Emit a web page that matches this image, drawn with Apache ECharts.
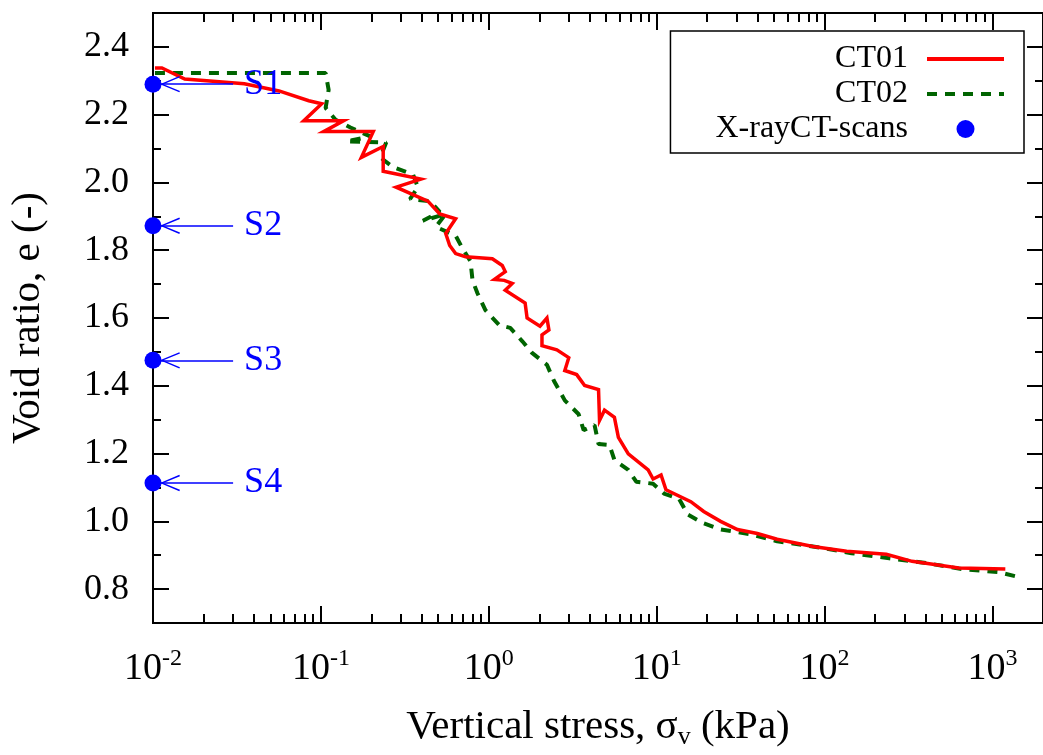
<!DOCTYPE html>
<html><head><meta charset="utf-8">
<script src="https://cdn.jsdelivr.net/npm/echarts@6/dist/echarts.min.js"></script>
<style>html,body{margin:0;padding:0;background:#fff}#c{width:1043px;height:755px}</style>
</head><body><div id="c"></div>
<script>
// ---- data ----
const ct01Stress = [0.01027,0.0113,0.01546,0.035,0.0563,0.0847,0.1011,0.0791,0.1364,0.1039,0.2051,0.1742,0.235,0.235,0.3943,0.2806,0.4336,0.5105,0.6346,0.554,0.5851,0.6346,0.7273,1.050,1.203,1.253,1.079,1.236,1.379,1.253,1.646,1.691,2.018,2.220,2.281,2.074,2.074,2.543,2.995,2.836,3.339,3.723,4.505,4.567,4.889,5.600,5.914,6.776,8.897,9.521,10.62,11.36,15.97,19.06,24.03,30.28,39.75,52.19,85.2,135.3,233.2,332.1,629.8,1193];
const ct01Void = [2.338,2.338,2.305,2.291,2.270,2.241,2.232,2.182,2.182,2.150,2.150,2.074,2.106,2.033,2.010,1.986,1.945,1.907,1.893,1.849,1.814,1.790,1.781,1.775,1.755,1.737,1.714,1.711,1.702,1.682,1.644,1.600,1.576,1.600,1.565,1.550,1.518,1.506,1.483,1.445,1.433,1.401,1.389,1.298,1.328,1.307,1.248,1.199,1.152,1.125,1.137,1.093,1.058,1.029,1.000,0.976,0.964,0.947,0.926,0.912,0.903,0.882,0.862,0.859];
const ct02Stress = [0.01027,0.1067,0.1112,0.1067,0.1223,0.15,0.1969,0.1421,0.2448,0.2257,0.2694,0.3536,0.3785,0.3393,0.4457,0.5105,0.4051,0.554,0.4835,0.6346,0.6982,0.7787,0.80,0.8562,0.9548,1.155,1.342,1.58,1.81,2.22,2.442,2.836,3.431,3.673,4.266,4.505,5.233,5.6,6.776,7.554,9.521,11.06,13.57,15.33,19.06,24.03,36.13,52.19,85.2,144.8,242.9,401.8,655.9,1085,1368];
const ct02Void = [2.323,2.323,2.273,2.220,2.185,2.162,2.136,2.121,2.118,2.074,2.045,2.024,1.986,1.951,1.945,1.913,1.887,1.907,1.869,1.843,1.805,1.767,1.711,1.673,1.623,1.579,1.571,1.532,1.497,1.462,1.415,1.357,1.316,1.269,1.284,1.228,1.225,1.181,1.152,1.117,1.111,1.082,1.067,1.020,0.994,0.976,0.962,0.941,0.926,0.906,0.891,0.877,0.859,0.850,0.838];
const scanStress = 0.01;
const scanVoid = [2.29, 1.872, 1.475, 1.113];
const scanNames = ['S1', 'S2', 'S3', 'S4'];
const arrowFromStress = 0.03;
const arrowToStress = 0.011;
const xTickExponents = [-2, -1, 0, 1, 2, 3];
const yMajorTicks = [0.8, 1.0, 1.2, 1.4, 1.6, 1.8, 2.0, 2.2, 2.4];
const yMinorTicks = [0.9, 1.1, 1.3, 1.5, 1.7, 1.9, 2.1, 2.3];
const X_MIN = 0.01, X_MAX = 2000, Y_MIN = 0.7, Y_MAX = 2.5;

// ---- derived tick positions ----
const xMajor = xTickExponents.map(n => Math.pow(10, n));
const xMinor = [];
xTickExponents.forEach(n => { for (let k = 2; k <= 9; k++) { const v = k * Math.pow(10, n); if (v < X_MAX) xMinor.push(v); } });

const FONT = 'Liberation Serif';
const black = '#000';

function xAx(pos, ticks, len, withLabels) {
  const ax = {
    type: 'log', logBase: 10, min: X_MIN, max: X_MAX, position: pos, gridIndex: 0,
    axisLine: { show: true, onZero: false, lineStyle: { color: black, width: 2 } },
    axisTick: { show: true, inside: true, length: len, customValues: ticks, lineStyle: { color: black, width: 2 } },
    axisLabel: { show: false },
    splitLine: { show: false }, minorTick: { show: false }, minorSplitLine: { show: false }
  };
  if (withLabels) {
    ax.axisLabel = {
      show: true, customValues: xMajor, margin: 24, color: black,
      formatter: v => '{b|10}{s|' + Math.round(Math.log10(v)) + '}',
      rich: {
        b: { fontFamily: FONT, fontSize: 38, lineHeight: 44, color: black },
        s: { fontFamily: FONT, fontSize: 24, lineHeight: 24, verticalAlign: 'top', color: black }
      }
    };
    ax.name = 'Vertical stress, σ{sub|v} (kPa)';
    ax.nameLocation = 'middle';
    ax.nameGap = 81;
    ax.nameTextStyle = {
      fontFamily: FONT, fontSize: 41, color: black, lineHeight: 46,
      rich: { sub: { fontFamily: FONT, fontSize: 26, lineHeight: 33, verticalAlign: 'bottom', color: black } }
    };
  }
  return ax;
}
function yAx(pos, ticks, len, withLabels) {
  const ax = {
    type: 'value', min: Y_MIN, max: Y_MAX, position: pos, gridIndex: 0,
    axisLine: { show: true, onZero: false, lineStyle: { color: black, width: 2 } },
    axisTick: { show: true, inside: true, length: len, customValues: ticks, lineStyle: { color: black, width: 2 } },
    axisLabel: { show: false },
    splitLine: { show: false }
  };
  if (withLabels) {
    ax.axisLabel = {
      show: true, customValues: yMajorTicks, margin: 24, color: black,
      fontFamily: FONT, fontSize: 36, formatter: v => v.toFixed(1)
    };
    ax.name = 'Void ratio, e (-)';
    ax.nameLocation = 'middle';
    ax.nameRotate = 90;
    ax.nameGap = 104;
    ax.nameTextStyle = { fontFamily: FONT, fontSize: 41, color: black };
  }
  return ax;
}

const chevron = 'path://M22,22 L30.2,41.4 L28.8,42 L22,25.5 L15.2,42 L13.8,41.4 Z M0,0 M44,44';

const option = {
  animation: false,
  backgroundColor: '#fff',
  textStyle: { fontFamily: FONT },
  grid: { left: 148, top: 13, right: -2, bottom: 128, containLabel: false },
  legend: {
    orient: 'vertical', right: 19, top: 31, align: 'right',
    itemWidth: 77, itemHeight: 18, itemGap: 3,
    padding: [12, 18, 8, 45],
    backgroundColor: '#fff', borderColor: black, borderWidth: 1.5, borderRadius: 0,
    textStyle: { fontFamily: FONT, fontSize: 32, color: black, padding: [0, 14, 0, 0] },
    data: [
      { name: 'CT01', itemStyle: { opacity: 0 }, lineStyle: { width: 4 } },
      { name: 'CT02', itemStyle: { opacity: 0 }, lineStyle: { width: 4 } },
      { name: 'X-rayCT-scans' }
    ],
    z: 10
  },
  xAxis: [
    xAx('bottom', xMajor, 17, true),
    xAx('bottom', xMinor, 9, false),
    xAx('top', xMajor, 17, false),
    xAx('top', xMinor, 9, false)
  ],
  yAxis: [
    yAx('left', yMajorTicks, 16, true),
    yAx('left', yMinorTicks, 8, false),
    yAx('right', yMajorTicks, 16, false),
    yAx('right', yMinorTicks, 8, false)
  ],
  series: [
    {
      name: 'CT01', type: 'line', xAxisIndex: 0, yAxisIndex: 0,
      data: ct01Stress.map((s, i) => [s, ct01Void[i]]),
      symbol: 'none', showSymbol: false,
      lineStyle: { color: '#ff0000', width: 3.5, join: 'miter' },
      itemStyle: { color: '#ff0000' }, z: 3
    },
    {
      name: 'CT02', type: 'line', xAxisIndex: 0, yAxisIndex: 0,
      data: ct02Stress.map((s, i) => [s, ct02Void[i]]),
      symbol: 'none', showSymbol: false,
      lineStyle: { color: '#006400', width: 4, type: [10, 8], cap: 'butt' },
      itemStyle: { color: '#006400' }, z: 2
    },
    {
      name: 'X-rayCT-scans', type: 'scatter', xAxisIndex: 0, yAxisIndex: 0,
      data: scanVoid.map(e => [scanStress, e]),
      symbol: 'circle', symbolSize: 17, clip: false,
      itemStyle: { color: '#0000ff', opacity: 1 }, z: 5,
      markLine: {
        silent: true, animation: false,
        symbol: ['none', chevron], symbolSize: 44,
        lineStyle: { color: '#0000ff', width: 1.5, type: 'solid', opacity: 1 },
        label: { show: true, position: 'start', distance: 11, formatter: '{b}', color: '#0000ff', fontFamily: FONT, fontSize: 36 },
        emphasis: { disabled: true },
        data: scanVoid.map((e, i) => [
          { name: scanNames[i], coord: [arrowFromStress, e] },
          { coord: [arrowToStress, e] }
        ])
      }
    }
  ]
};

const chart = echarts.init(document.getElementById('c'), null, { renderer: 'canvas' });
chart.setOption(option);
</script>
</body></html>
